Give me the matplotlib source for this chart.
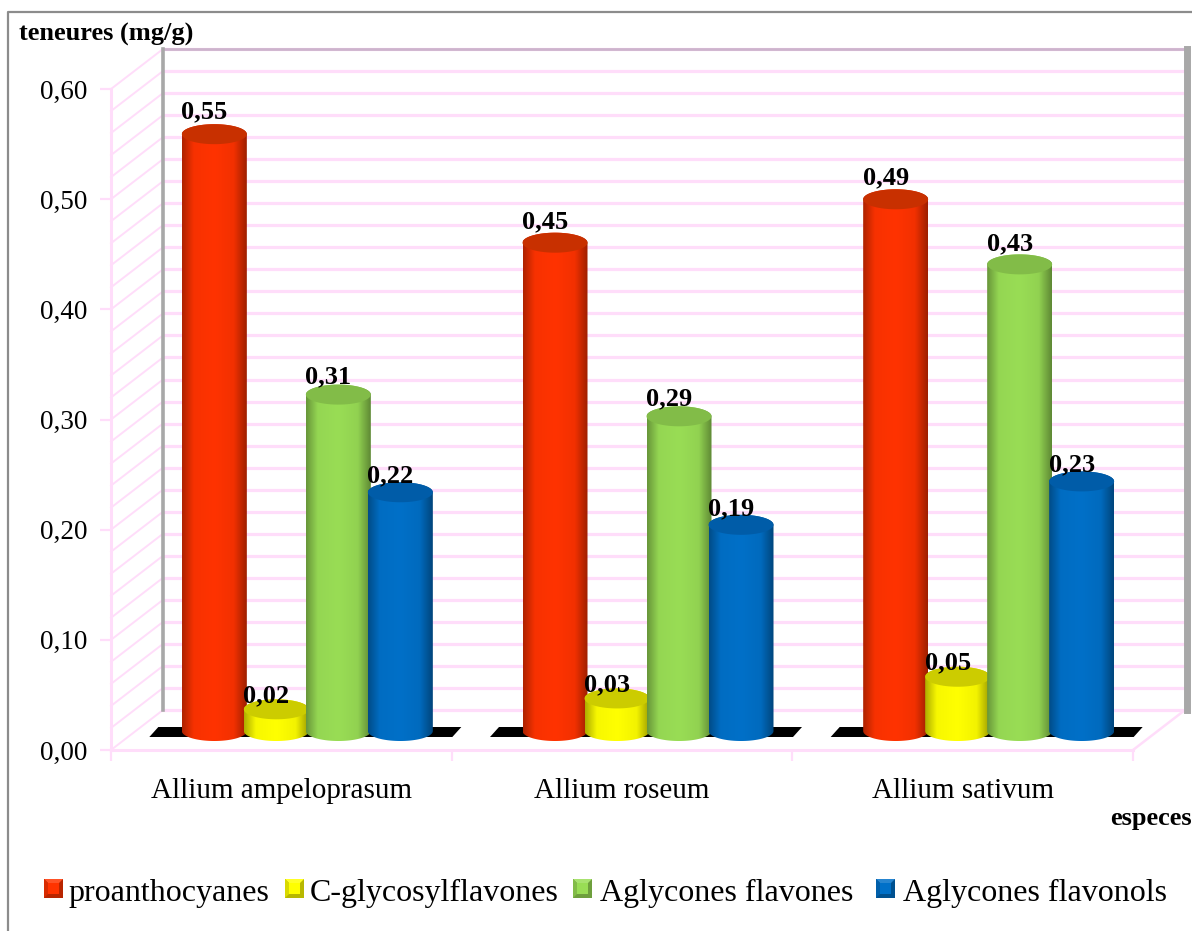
import matplotlib
matplotlib.use("Agg")
import matplotlib.pyplot as plt
from matplotlib.lines import Line2D
from matplotlib.patches import Polygon, Rectangle
from matplotlib.path import Path
from matplotlib.transforms import Affine2D
import numpy as np

plt.rcParams["font.family"] = ["Liberation Serif", "DejaVu Serif"]

especes = ["Allium ampeloprasum", "Allium roseum", "Allium sativum"]
series = ["proanthocyanes", "C-glycosylflavones", "Aglycones flavones", "Aglycones flavonols"]
proanthocyanes = [0.55, 0.45, 0.49]
c_glycosylflavones = [0.02, 0.03, 0.05]
aglycones_flavones = [0.31, 0.29, 0.43]
aglycones_flavonols = [0.22, 0.19, 0.23]
valeurs = [proanthocyanes, c_glycosylflavones, aglycones_flavones, aglycones_flavonols]

couleurs = ["#FF3300", "#FFFF00", "#99DD55", "#0070C8"]
dessus = ["#C83000", "#CCCC00", "#82BC48", "#005CA8"]
rose = "#FFDDFA"
gris = "#A8A8A8"

W, H = 1192, 931
fig = plt.figure(figsize=(W / 100, H / 100), dpi=100, facecolor="white")
ax = fig.add_axes([111 / W, (H - 750) / H, 1022 / W, 661 / H])
ax.set_xlim(0, 3)
ax.set_ylim(0, 0.6)

# unites du graphique par pixel
ux = 3 / 1022
uy = 0.6 / 661
prof_x, prof_y = 52 * ux, 40 * uy   # profondeur du decor 3D
fig_px = Affine2D().scale(1 / W, -1 / H).translate(0, 1) + fig.transFigure

# decor : fond, paroi gauche, sol
for v in np.arange(0, 0.601, 0.02):
    ax.plot([prof_x, 3 + prof_x], [v + prof_y, v + prof_y], color=rose, lw=2.3, clip_on=False, zorder=1)
    ax.plot([0, prof_x], [v, v + prof_y], color=rose, lw=1.4, clip_on=False, zorder=1)
ax.plot([prof_x, 3 + prof_x], [0.6 + prof_y] * 2, color="#CDB4CD", lw=2, clip_on=False, zorder=1.1)
ax.plot([3, 3 + prof_x], [0, prof_y], color=rose, lw=1.8, clip_on=False, zorder=1)
ax.plot([prof_x, prof_x], [prof_y, 0.6 + prof_y], color=gris, lw=2.6, clip_on=False, zorder=1.2)
ax.plot([3 + prof_x + 2 * ux] * 2, [prof_y, 0.6 + prof_y], color=gris, lw=5, clip_on=False, zorder=1.2)

# cylindres, places au milieu de la profondeur
larg = 65 * ux
pas = 62 * ux
ry = 10 * uy
echelle = 0.985    # recul du plan des barres
t = np.linspace(0, 1, 120)
ombre = np.interp(t, [0, 0.18, 0.5, 0.8, 1], [0.68, 0.97, 1, 0.95, 0.62])
theta = np.linspace(0, np.pi, 60)

for g in range(len(especes)):
    cx = g + 0.5 + prof_x / 2
    base = prof_y / 2 - 1 * uy

    # ombre noire au sol
    ax.add_patch(Polygon(
        [(cx - 158 * ux, base - 6 * uy), (cx + 145 * ux, base - 6 * uy),
         (cx + 154 * ux, base + 4 * uy), (cx - 149 * ux, base + 4 * uy)],
        closed=True, color="black", zorder=2, lw=0, clip_on=False))

    for s in range(len(series)):
        v = valeurs[s][g]
        xc = cx + (s - 1.5) * pas
        haut = base + v * echelle
        rx = larg / 2

        xs = np.concatenate([xc - rx * np.cos(theta), xc + rx * np.cos(theta)])
        ys = np.concatenate([base - ry * np.sin(theta), haut + ry * np.sin(theta)])
        contour = Path(np.column_stack([xs, ys]))
        forme = Polygon(contour.vertices, closed=True, transform=ax.transData, fc="none", ec="none")
        ax.add_patch(forme)

        rvb = np.array(matplotlib.colors.to_rgb(couleurs[s]))
        degrade = (ombre[None, :, None] * rvb).clip(0, 1)
        im = ax.imshow(degrade, extent=[xc - rx, xc + rx, base - ry, haut + ry], aspect="auto",
                       interpolation="bilinear", zorder=3 + s)
        im.set_clip_path(forme)

        ellipse_x = xc + rx * np.cos(2 * theta)
        ellipse_y = haut + ry * np.sin(2 * theta)
        ax.add_patch(Polygon(np.column_stack([ellipse_x, ellipse_y]), closed=True,
                             fc=dessus[s], ec="none", zorder=3.5 + s))

        ax.annotate(f"{v:.2f}".replace(".", ","), (xc, v), xytext=(-10, 32), textcoords="offset pixels",
                    ha="center", va="center", fontsize=19, fontweight="bold", zorder=10)

ax.set_xlim(0, 3)
ax.set_ylim(0, 0.6)

# axes
for cote in ["top", "right"]:
    ax.spines[cote].set_visible(False)
for cote in ["left", "bottom"]:
    ax.spines[cote].set_color(rose)
    ax.spines[cote].set_linewidth(2.2)
    ax.spines[cote].set_zorder(1.5)
ax.patch.set_alpha(0)

ax.set_yticks(np.arange(0, 0.61, 0.1))
ax.set_yticklabels([f"{v:.2f}".replace(".", ",") for v in np.arange(0, 0.61, 0.1)], fontsize=19.5)
ax.set_xticks(range(4))
ax.set_xticklabels([])
ax.set_xticks([0.5, 1.5, 2.5], minor=True)
ax.set_xticklabels(especes, minor=True, fontsize=21)
ax.tick_params(axis="y", length=8, width=1.6, color=rose, pad=9)
ax.tick_params(axis="x", which="major", length=8, width=1.6, color=rose)
ax.tick_params(axis="x", which="minor", length=0, pad=20)

# cadre exterieur
fig.add_artist(Line2D([8, 8, W], [H, 12, 12], color="#8C8C8C", lw=1.6, transform=fig_px))

# titres des axes
fig.text(19, 34, "teneures (mg/g)", transform=fig_px, fontsize=19, fontweight="bold", va="center")
fig.text(W, 818, "especes", transform=fig_px, fontsize=19, fontweight="bold", va="center", ha="right")

# legende
pos_cles = [44, 285, 573, 876]
pos_textes = [68, 310, 600, 903]
for s, nom in enumerate(series):
    x0, y0, c = pos_cles[s], 879, 19
    rvb = np.array(matplotlib.colors.to_rgb(couleurs[s]))
    fig.add_artist(Rectangle((x0, y0), c, c, transform=fig_px, fc=rvb * 0.72, ec="none"))
    fig.add_artist(Polygon([(x0, y0), (x0 + c, y0), (x0 + c - 5, y0 + 5), (x0 + 5, y0 + 5)], transform=fig_px,
                           fc=np.minimum(rvb * 0.85 + 0.15, 1), ec="none"))
    fig.add_artist(Polygon([(x0, y0), (x0 + 5, y0 + 5), (x0 + 5, y0 + c - 5), (x0, y0 + c)], transform=fig_px,
                           fc=rvb * 0.85, ec="none"))
    fig.add_artist(Rectangle((x0 + 4, y0 + 4), c - 8, c - 8, transform=fig_px, fc=rvb, ec="none"))
    fig.text(pos_textes[s], 893, nom, transform=fig_px, fontsize=23, va="center")

fig.savefig("out.png", dpi=100)
